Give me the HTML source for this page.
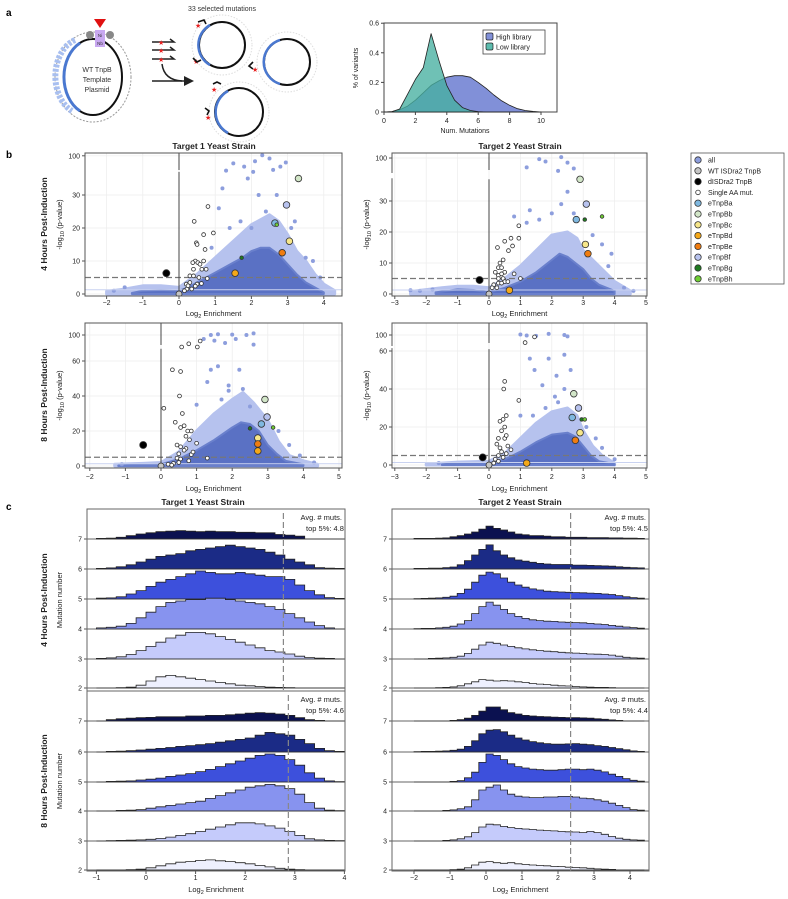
<!DOCTYPE html>
<html><head><meta charset="utf-8">
<style>
html,body{margin:0;padding:0;background:#fff;}
svg{display:block;font-family:"Liberation Sans",sans-serif;}
</style></head>
<body>
<svg id="fig" width="788" height="899" viewBox="0 0 788 899" xmlns="http://www.w3.org/2000/svg">
<text x="6" y="16" font-size="10" font-weight="bold">a</text>
<text x="6" y="158" font-size="10" font-weight="bold">b</text>
<text x="6" y="510" font-size="10" font-weight="bold">c</text>
<g>
<ellipse cx="93" cy="77" rx="38" ry="45" fill="none" stroke="#999" stroke-width="1" stroke-dasharray="2,1.5"/>
<path d="M 83 40 A 28 38 0 0 0 80 111" fill="none" stroke="#a8bff0" stroke-width="6" stroke-dasharray="3,1.5" transform="translate(-8,0)"/>
<ellipse cx="93" cy="77" rx="29" ry="38" fill="none" stroke="#111" stroke-width="2"/>
<path d="M 80 43 A 29 38 0 0 0 80 111" fill="none" stroke="#4a78d0" stroke-width="3"/>
<circle cx="90" cy="35" r="4" fill="#888"/>
<circle cx="110" cy="35" r="4" fill="#888"/>
<rect x="95" y="30" width="10" height="17" fill="#c8a8f0"/>
<text x="100" y="37" font-size="4.5" text-anchor="middle" fill="#333">Ni</text>
<text x="100" y="45" font-size="4.5" text-anchor="middle" fill="#333">Nb</text>
<polygon points="94,19 106,19 100,28" fill="#e01010"/>
<text x="97" y="72" font-size="7" text-anchor="middle" fill="#333">WT TnpB</text>
<text x="97" y="82" font-size="7" text-anchor="middle" fill="#333">Template</text>
<text x="97" y="92" font-size="7" text-anchor="middle" fill="#333">Plasmid</text>
<text x="222" y="11" font-size="7" text-anchor="middle" fill="#333">33 selected mutations</text>
<g stroke="#222" stroke-width="1.5" fill="none">
<path d="M152 42 H174 L170 39"/><path d="M152 50 H174 L170 47"/><path d="M152 59 H174 L170 56"/>
<path d="M162 64 Q164 80 182 81"/><path d="M152 81 H186"/>
</g>
<polygon points="184,76 194,81 184,86" fill="#222"/>
<g fill="#e82020" font-size="7"><text x="158" y="45">★</text><text x="158" y="53">★</text><text x="158" y="62">★</text></g>
<g>
<circle cx="222" cy="45" r="30" fill="none" stroke="#ddd" stroke-dasharray="1.5,1.5"/>
<circle cx="222" cy="45" r="23" fill="none" stroke="#111" stroke-width="2"/>
<path d="M 210 25 A 23 23 0 0 0 210 65" fill="none" stroke="#4a78d0" stroke-width="2.5"/>
<circle cx="287" cy="62" r="30" fill="none" stroke="#ddd" stroke-dasharray="1.5,1.5"/>
<circle cx="287" cy="62" r="23" fill="none" stroke="#111" stroke-width="2"/>
<path d="M 280 40 A 23 23 0 0 0 280 84" fill="none" stroke="#4a78d0" stroke-width="2.5"/>
<circle cx="239" cy="112" r="30" fill="none" stroke="#ddd" stroke-dasharray="1.5,1.5"/>
<circle cx="239" cy="112" r="24" fill="none" stroke="#111" stroke-width="2"/>
<path d="M 228 91 A 24 24 0 0 0 228 133" fill="none" stroke="#4a78d0" stroke-width="2.5"/>
<g fill="#e82020" font-size="7"><text x="195" y="28">★</text><text x="193" y="64">★</text><text x="252" y="72">★</text><text x="211" y="92">★</text><text x="205" y="120">★</text></g>
<g stroke="#111" stroke-width="1.6" fill="none"><path d="M198 22 l6 -2 l2 4"/><path d="M193 58 l4 4 l4 -2"/><path d="M253 62 l-4 4 l4 3"/><path d="M213 84 l4 -2 l4 2"/><path d="M205 108 l4 3 l-2 4"/></g>
</g>
</g>
<g id="pa"></g>
<g id="pb"></g>
<g id="pc"></g>
</svg>
<script>
const distX = [0,0.5,1,1.5,2,2.5,3,3.5,4,4.5,5,5.5,6,6.5,7,7.5,8,8.5,9,9.5,10];
const highLib = [0,0.003,0.015,0.04,0.08,0.13,0.18,0.21,0.235,0.245,0.245,0.235,0.2,0.16,0.115,0.075,0.045,0.022,0.01,0.004,0];
const lowLib = [0,0.003,0.02,0.12,0.22,0.3,0.53,0.35,0.18,0.08,0.03,0.01,0.003,0,0,0,0,0,0,0,0];
const distXTicks = [0,2,4,6,8,10];
const distYTicks = [0,0.2,0.4,0.6];

const allCloudX_T1_4h = [-1.3,-1,-0.5,0,0.25,0.5,0.75,1,1.25,1.5,1.75,2,2.25,2.5,2.75,3,3.25,3.5,3.75,4];
const allCloudDense_T1_4h = [0.3,1,1.2,1,2,3.5,5,6.5,8,9.5,11,13,14,14,12,9,6,3.5,2,0.5];
const allSparseX_T1_4h = [-2,-1.5,-1,-0.5,0,0.5,1,1.5,2,2.5,2.75,3,3.25,3.5,3.75,4,4.3];
const allSparseTop_T1_4h = [0.8,1.5,2.5,2.5,2,6,11,16,21,24,22,18,13,10,6,3,1];
const outX_T1_4h = [1.3,1.5,2.1,2.5,2.3,2.8,2.95,1.8,2.6,1.9,2.2,2.7,1.1,1.4,1.7,2.4,3.2,3.5,3.7,3.9,-1.5,-1.8,2,0.9,3.1,1.2,2.05];
const outY_T1_4h = [45,72,80,90,102,60,75,60,48,35,30,30,26,20,22,25,22,11,10,5,2,1,20,14,20,32,38];
const aaX_T1_4h = [0.8,0.42,0.68,0.95,0.48,0.5,0.72,0.45,0.52,0.38,0.58,0.68,0.4,0.63,0.75,0.3,0.4,0.55,0.78,0.2,0.3,0.5,0.62,0.22,0.35,0.15,0.25,0.45];
const aaY_T1_4h = [26.5,22,18,18.5,15.5,15,13.5,10,9.5,9.5,9,10,7.5,7.5,7.5,5.5,5.5,5,4.7,3,3.5,3,3.2,1.5,1.5,1,2.5,2.4];
const varX_T1_4h = [0,-0.35,2.65,3.3,3.05,1.55,2.85,2.97,1.73,2.7];
const varY_T1_4h = [0,6.3,21.5,35,16,6.3,12.5,27,11,21];

const allCloudX_T2_4h = [-1.7,-1,-0.5,0,0.5,1,1.5,2,2.25,2.5,2.75,3,3.25,3.5,4];
const allCloudDense_T2_4h = [0.5,1.5,1.3,0.5,2,4,7,11,13,12,10,8,5,3,1];
const allSparseX_T2_4h = [-2.5,-1.5,-1,-0.5,0,0.5,1,1.5,2,2.5,2.8,3,3.5,4,4.5];
const allSparseTop_T2_4h = [0.8,2,2.5,2.5,2,5,9,14,19,20,18,14,9,4,1];
const outX_T2_4h = [1.6,1.8,2.3,2.5,1.2,2.7,2.2,0.8,1.3,1.6,2,2.3,2.7,2.5,3.6,3.9,3.8,4.3,4.6,-2.5,-2.2,-1.8,1.2,3.3];
const outY_T2_4h = [95,85,104,80,60,55,45,25,27,24,26,29,26,33,16,13,9,2,1,1.2,1,1.5,23,19];
const aaX_T2_4h = [0.95,0.5,0.7,0.95,0.27,0.75,0.62,0.45,0.35,0.3,0.4,0.2,0.5,0.3,0.4,0.8,0.3,0.45,1,0.15,0.3,0.5,0.1,0.25,0.6,0.4];
const aaY_T2_4h = [22,17,18,18,15,15.5,14,11,10,8.5,8.5,7,7,6,6.5,6.5,5,5,5,3,3.5,4,2,2,4,3.5];
const varX_T2_4h = [0,-0.3,2.78,2.9,3.07,0.65,3.15,3.1,3.05,3.6];
const varY_T2_4h = [0,4.5,24,37,16,1.2,13,29,24,25];

const allCloudX_T1_8h = [-1.2,-0.5,0,0.5,1,1.5,2,2.25,2.5,2.75,3,3.25,3.5,4];
const allCloudDense_T1_8h = [0.3,0.8,1,4,9,15,22,25,24,20,12,7,3,1];
const allSparseX_T1_8h = [-1.3,-0.5,0,0.5,1,1.5,2,2.3,2.6,3,3.3,3.6,4,4.4];
const allSparseTop_T1_8h = [1,1.5,2,8,20,30,38,42,36,26,14,6,3,1];
const outX_T1_8h = [1.4,1.6,2.0,2.4,2.6,1.2,1.5,1.8,2.1,2.6,1.4,1.6,2.2,1.3,1.9,2.3,1,1.7,2.5,3.3,3.6,3.9,4.3,-1.1,1.9];
const outY_T1_8h = [100,102,101,100,104,90,86,80,90,76,55,57,55,48,46,44,35,38,34,20,12,6,2,1,43];
const aaX_T1_8h = [1.1,0.78,0.58,1.02,0.32,0.55,0.08,0.6,0.52,0.4,0.55,0.65,0.75,0.7,0.85,0.8,0.45,0.55,0.7,0.65,0.5,0.85,0.45,0.55,0.5,0.35,0.2,0.3,0.78,1.3,1,0.9];
const aaY_T1_8h = [85,78,70,70,55,54,33,30,40,25,22,23,20,17,20,15,12,11,10,9,7,6.5,4.5,4,2,1.5,1,0.5,3,4.5,13,8];
const varX_T1_8h = [0,-0.5,2.82,2.92,2.72,2.72,2.72,2.98,2.5,3.15];
const varY_T1_8h = [0,12,24,38,16,8.6,12.6,28,21.5,22];

const allCloudX_T2_8h = [-1.5,-1,-0.5,0,0.5,1,1.5,2,2.5,2.75,3,3.25,3.5,4];
const allCloudDense_T2_8h = [0.3,1,1,1,3,7,12,16,17,15,10,5,2,0.5];
const allSparseX_T2_8h = [-2,-1,0,0.5,1,1.5,2,2.5,2.8,3,3.3,3.6,4];
const allSparseTop_T2_8h = [0.5,1.5,2,6,14,22,28,30,26,18,10,5,1];
const outX_T2_8h = [1,1.2,1.5,1.9,2.4,2.5,1.3,1.9,2.4,1.45,2.15,2.6,1.7,2.1,2.4,1,1.4,1.8,2.2,3.1,3.4,3.6,4,-1.6];
const outY_T2_8h = [102,98,97,104,100,95,56,56,58,50,47,50,42,36,40,26,26,30,33,20,14,9,3,1];
const aaX_T2_8h = [1.45,1.15,0.5,0.47,0.95,0.55,0.35,0.45,0.5,0.4,0.3,0.5,0.55,0.25,0.35,0.4,0.55,0.3,0.45,0.2,0.3,0.15,0.6,0.7];
const aaY_T2_8h = [93,72,44,40,34,26,23,24,20,18,14,14,15.5,11,9,7,6,5,4,3,2,1,10,8];
const varX_T2_8h = [0,-0.2,2.65,2.7,2.9,1.2,2.75,2.85,2.95,3.05];
const varY_T2_8h = [0,4,25,37.5,17,1,13,30,24,24];

const legendLabels = ["all","WT ISDra2 TnpB","dISDra2 TnpB","Single AA mut.","eTnpBa","eTnpBb","eTnpBc","eTnpBd","eTnpBe","eTnpBf","eTnpBg","eTnpBh"];

const mutRows = [7,6,5,4,3,2];
const hist_T1_4h_r7 = [0.2,0.3,0.6,1.2,1.8,2.2,2.6,2.8,3,2.8,2.6,2.8,2.6,2.6,2.4,2.4,2.2,2.2,1.6,1.4,1.0,0,0,0,0];
const hist_T1_4h_r6 = [0.2,0.4,0.8,1.5,2.5,3.5,4.5,5,5.5,6.5,7,7.5,8,8.5,8,7.5,7,6,5,3.5,2.5,1.5,0.5,0.3,0.2];
const hist_T1_4h_r5 = [0.3,0.4,0.8,1.8,3,4.5,6,7,8,9,10,9.5,9,9,9.5,9,8.5,8,8,7,5,3,1.5,0.5,0.2];
const hist_T1_4h_r4 = [0.4,0.6,1,2,4,6,8,9.5,10,10.5,10.5,11,11,10.5,10,9.5,9,8,7,5.5,4,2.5,1.2,0.4,0];
const hist_T1_4h_r3 = [0.2,0.4,0.8,1.6,3,4.5,6,7.5,8.5,9.5,9.5,9,8,7,6,5,4,3,2.5,1.8,1,0.5,0.3,0.2,0];
const hist_T1_4h_r2 = [0,0,0.1,0.3,1,2.5,4,4.5,4,3.5,3,2.5,2,1.5,1,0.8,0.5,0.3,0.2,0.1,0,0,0,0,0];
const hist_T1_8h_r7 = [0,0.5,0.8,1,1.2,1.3,1.5,1.5,1.5,1.8,1.8,2,2,2.2,2.5,2.8,3,2.8,2.5,2,1.2,0.5,0.2,0,0];
const hist_T1_8h_r6 = [0,0.2,0.3,0.5,0.7,1,1.3,1.6,2,2.3,2.6,3,3.5,4,4.5,5,6,7,6.5,6,4.5,3,1.3,0.5,0.2];
const hist_T1_8h_r5 = [0,0.2,0.3,0.4,0.7,1,1.4,2,2.5,3,3.7,4.5,5.5,6.5,7.5,8.5,9.5,10,9.5,8,6,3.3,1.4,0.4,0.1];
const hist_T1_8h_r4 = [0,0,0.2,0.3,0.5,1,1.5,2,2.5,3,3.5,4.5,5.5,6.5,7.5,8.5,9,9.5,9,8,6,3,1,0.3,0.1];
const hist_T1_8h_r3 = [0,0.1,0.2,0.3,0.4,0.6,0.9,1.4,2,2.6,3.4,4.2,5,5.8,6.5,6.5,6.1,5.4,4.6,3.4,2,0.8,0.4,0.2,0.1];
const hist_T1_8h_r2 = [0,0,0,0.1,0.3,0.8,1.5,2.2,2.8,3,3.4,3.6,3.3,3,2.6,2.2,1.6,1.1,0.6,0.3,0.1,0,0,0,0];
const hist_T2_4h_r7 = [0.2,0.2,0.2,0.3,0.4,0.8,1.2,1.8,2.5,3.5,4.6,3.8,3.2,2.5,1.8,1.5,1.2,1.2,1,0.8,0.8,0.6,0.6,0.6,0.5,0.5,0.5,0.4,0.4,0.3,0.3,0.2];
const hist_T2_4h_r6 = [0.2,0.2,0.3,0.3,0.5,0.7,1.5,3,5,7,8.6,6.5,5,4,3.2,2.8,2.4,2,1.8,1.6,1.6,1.6,1.4,1.4,1.3,1.2,1.1,1,0.8,0.6,0.5,0.4];
const hist_T2_4h_r5 = [0.1,0.2,0.3,0.4,0.6,1,2,3.5,6,8.5,9.6,9,7.5,6,5,4.2,3.6,3.2,2.8,2.6,2.5,2.4,2.3,2.2,2.1,2,1.8,1.6,1.2,0.8,0.5,0.3];
const hist_T2_4h_r4 = [0.1,0.2,0.2,0.4,0.6,1,1.8,3,5.5,8,9.6,8.5,7,5.5,4.5,3.8,3.3,3,2.8,2.7,2.5,2.4,2.3,2.2,2,1.8,1.6,1.3,1,0.7,0.5,0.3];
const hist_T2_4h_r3 = [0,0,0.2,0.3,0.4,0.6,1,2,3.5,5,6,5.6,5,4.5,4,3.6,3.3,3,2.8,2.6,2.4,2.2,2.1,2,1.8,1.7,1.6,1.4,1,0.6,0.4,0.3];
const hist_T2_4h_r2 = [0,0,0,0.1,0.2,0.4,0.8,1.5,2.2,3,2.8,2.5,2.6,2.5,2.2,2,1.6,1.4,1.2,1,0.8,0.7,0.5,0.4,0.3,0.2,0.2,0.1,0,0,0,0];
const hist_T2_8h_r7 = [0,0,0,0,0,0.2,0.5,1,2,3.5,5,5,4,3,2.5,2,1.8,1.6,1.5,1.4,1.3,1.2,1.2,1.1,1,0.8,0.6,0.4,0.2,0,0,0];
const hist_T2_8h_r6 = [0.1,0.2,0.2,0.3,0.4,0.6,1,2,4,6.5,7.8,8,7.2,6,5,4.3,3.7,3.3,3,2.8,2.8,2.9,3,2.8,2.6,2.3,2,1.6,1.2,0.8,0.4,0.2];
const hist_T2_8h_r5 = [0,0,0,0,0,0.2,0.5,1.5,3.5,7,10,9.5,8,6.5,5.5,5,4.6,4.4,4.2,4.2,4.4,4.6,4.6,4.4,4.6,4.2,3.6,2.8,2,1.2,0.6,0.3];
const hist_T2_8h_r4 = [0,0,0,0,0.2,0.4,0.8,1.5,4,7.5,8.5,9.3,7.5,6,5.3,5,4.8,4.8,5,5,5.2,5.2,5,4.6,4.4,4,3.5,2.8,2,1.2,0.5,0.3];
const hist_T2_8h_r3 = [0,0,0,0,0.2,0.4,0.8,1.5,3,5,6,5.8,5.2,4.8,4.5,4.3,4.1,3.9,3.7,3.6,3.4,3.3,3.2,3,3.4,3,2.4,1.6,1,0.6,0.4,0.3];
const hist_T2_8h_r2 = [0,0,0,0,0,0.1,0.3,0.8,1.8,2.8,3,2.6,2.4,2.6,2.2,2,1.8,1.6,1.5,1.3,1.2,1,0.9,0.8,0.6,0.4,0.3,0.2,0,0,0,0];
const topFivePct = ["4.8","4.6","4.5","4.4"];
const cutoffLeft4h = 2.77, cutoffLeft8h = 2.87, cutoffRight = 2.35;

const NS = "http://www.w3.org/2000/svg";
function mk(tag, attrs, parent){ const e=document.createElementNS(NS,tag); for(const k in attrs) e.setAttribute(k,attrs[k]); parent.appendChild(e); return e; }
function txt(parent, x, y, s, size, anchor, extra){ const t=mk('text',Object.assign({x:x,y:y,'font-size':size,'text-anchor':anchor||'start',fill:'#222'},extra||{}),parent); t.textContent=s; return t; }

(function(){
  const g=document.getElementById('pa');
  const X=v=>384+v*15.7, Y=v=>112-v*148;
  const fr=mk('rect',{x:384,y:23,width:173,height:89,fill:'none',stroke:'#444','stroke-width':1},g);
   
  function area(vals, fill, name){
    let d='M'+X(distX[0])+','+Y(0);
    distX.forEach((x,i)=>{ d+=' L'+X(x).toFixed(1)+','+Y(vals[i]).toFixed(1); });
    d+=' L'+X(distX[distX.length-1])+','+Y(0)+' Z';
    const p=mk('path',{d:d,fill:fill,stroke:'#222','stroke-width':0.8,'stroke-linejoin':'round'},g);
     
  }
  area(highLib,'#8190d8','high-library-curve');
  area(lowLib,'rgba(70,175,160,0.78)','low-library-curve');
  distXTicks.forEach(v=>{ const t=txt(g,X(v),123,String(v),7,'middle');  
    const l=mk('line',{x1:X(v),x2:X(v),y1:112,y2:115,stroke:'#444'},g);  });
  distYTicks.forEach(v=>{ const t=txt(g,379,Y(v)+2.5,String(v),7,'end');  
    const l=mk('line',{x1:381,x2:384,y1:Y(v),y2:Y(v),stroke:'#444'},g);  });
  let t=txt(g,465,133,'Num. Mutations',7,'middle');  
  t=txt(g,0,0,'% of variants',7,'middle',{transform:'translate(358,68) rotate(-90)'});  
  const lb=mk('rect',{x:483,y:30,width:62,height:24,fill:'#fff',stroke:'#444','stroke-width':0.8},g);  
  let s=mk('rect',{x:486,y:33,width:7,height:7,rx:1.5,fill:'#8190d8',stroke:'#222','stroke-width':0.7},g);  
  s=mk('rect',{x:486,y:43,width:7,height:7,rx:1.5,fill:'#5cbcae',stroke:'#222','stroke-width':0.7},g);  
  t=txt(g,496,39.5,'High library',7);  
  t=txt(g,496,49.5,'Low library',7);  
})();

const varColors=['#c6c6c6','#000','#7fb8e0','#d2e6c8','#f6e68a','#f5a818','#f07c10','#b8c3ef','#1f7a1f','#6fcf33'];
const varR=[3,3.5,3.3,3.3,3.3,3.3,3.3,3.3,1.8,1.8];
(function(){
  const g=document.getElementById('pb');
  const panels=[
    {name:'t1-4h',box:[85,153,342,296],x0:179,kx:36.2,y0:294,ky:3.3,brk:37,up0:40,upPx:172,kup:0.27,yt:[0,10,20,30,100],xt:[-2,-1,0,1,2,3,4],xl:305,xtitle:316,
     cx:allCloudX_T1_4h,cd:allCloudDense_T1_4h,sx:allSparseX_T1_4h,st:allSparseTop_T1_4h,ox:outX_T1_4h,oy:outY_T1_4h,ax:aaX_T1_4h,ay:aaY_T1_4h,vx:varX_T1_4h,vy:varY_T1_4h},
    {name:'t2-4h',box:[392,153,647,296],x0:489,kx:31.4,y0:294,ky:3.1,brk:37,up0:40,upPx:172,kup:0.233,yt:[0,10,20,30,100],xt:[-3,-2,-1,0,1,2,3,4,5],xl:305,xtitle:316,
     cx:allCloudX_T2_4h,cd:allCloudDense_T2_4h,sx:allSparseX_T2_4h,st:allSparseTop_T2_4h,ox:outX_T2_4h,oy:outY_T2_4h,ax:aaX_T2_4h,ay:aaY_T2_4h,vx:varX_T2_4h,vy:varY_T2_4h},
    {name:'t1-8h',box:[85,323,342,468],x0:161,kx:35.6,y0:466,ky:1.75,brk:67,up0:70,upPx:347,kup:0.4,yt:[0,20,40,60,100],xt:[-2,-1,0,1,2,3,4,5],xl:479,xtitle:491,
     cx:allCloudX_T1_8h,cd:allCloudDense_T1_8h,sx:allSparseX_T1_8h,st:allSparseTop_T1_8h,ox:outX_T1_8h,oy:outY_T1_8h,ax:aaX_T1_8h,ay:aaY_T1_8h,vx:varX_T1_8h,vy:varY_T1_8h},
    {name:'t2-8h',box:[392,323,647,468],x0:489,kx:31.4,y0:465,ky:1.9,brk:61,up0:63,upPx:345,kup:0.27,yt:[0,20,40,60,100],xt:[-3,-2,-1,0,1,2,3,4,5],xl:479,xtitle:491,
     cx:allCloudX_T2_8h,cd:allCloudDense_T2_8h,sx:allSparseX_T2_8h,st:allSparseTop_T2_8h,ox:outX_T2_8h,oy:outY_T2_8h,ax:aaX_T2_8h,ay:aaY_T2_8h,vx:varX_T2_8h,vy:varY_T2_8h}
  ];
  panels.forEach(P=>{
    const pg=mk('g',{},g);  
    const [L,T,R,B]=P.box;
    const X=v=>P.x0+v*P.kx;
    const Y=v=>{ if(v<=P.brk) return P.y0-v*P.ky; if(v>=P.up0) return Math.max(T+1,P.upPx-(v-P.up0)*P.kup); return P.y0-P.brk*P.ky; };
    const cid='clip-'+P.name;
    const cp=mk('clipPath',{id:cid},pg); mk('rect',{x:L,y:T,width:R-L,height:B-T},cp);
    const inner=mk('g',{'clip-path':'url(#'+cid+')'},pg);  
    P.xt.forEach(v=>{ const l=mk('line',{x1:X(v),x2:X(v),y1:T,y2:B,stroke:'#ececec','stroke-width':0.7},inner);   });
    P.yt.forEach(v=>{ const l=mk('line',{x1:L,x2:R,y1:Y(v),y2:Y(v),stroke:'#ececec','stroke-width':0.7},inner);   });
    let d='M'+X(P.sx[0])+','+Y(0); P.sx.forEach((x,i)=>{ d+=' L'+X(x).toFixed(1)+','+Y(P.st[i]).toFixed(1); }); d+=' L'+X(P.sx[P.sx.length-1])+','+Y(0)+' Z';
    let p=mk('path',{d:d,fill:'#b6c2ee','stroke-linejoin':'round',stroke:'#b6c2ee','stroke-width':3},inner);  
    d='M'+X(P.cx[0])+','+Y(0); P.cx.forEach((x,i)=>{ d+=' L'+X(x).toFixed(1)+','+Y(P.cd[i]).toFixed(1); }); d+=' L'+X(P.cx[P.cx.length-1])+','+Y(0)+' Z';
    p=mk('path',{d:d,fill:'#5a71c4',stroke:'#6a80cc','stroke-width':2,'stroke-linejoin':'round'},inner);  
    P.ox.forEach((x,i)=>{ const c=mk('circle',{cx:X(x),cy:Y(P.oy[i]),r:2,fill:'#8d9edd'},inner);   });
    let l=mk('line',{x1:L,x2:R,y1:Y(1.3),y2:Y(1.3),stroke:'#c9d2f0','stroke-width':1},inner);  
    l=mk('line',{x1:L,x2:R,y1:Y(5),y2:Y(5),stroke:'#777','stroke-width':1.3,'stroke-dasharray':'6,3'},inner);  
    l=mk('line',{x1:X(0),x2:X(0),y1:Y(0),y2:Y(P.brk),stroke:'#444','stroke-width':1},inner);  
    l=mk('line',{x1:X(0),x2:X(0),y1:P.upPx-2,y2:T,stroke:'#444','stroke-width':1},inner);  
    P.ax.forEach((x,i)=>{ const c=mk('circle',{cx:X(x),cy:Y(P.ay[i]),r:1.9,fill:'#fff',stroke:'#333','stroke-width':0.8},inner);   });
    P.vx.forEach((x,i)=>{ const c=mk('circle',{cx:X(x),cy:Y(P.vy[i]),r:varR[i],fill:varColors[i],stroke:'#333','stroke-width':0.8},inner);   });
    const gy1=P.y0-P.brk*P.ky, gy2=P.upPx;
    l=mk('path',{d:`M${L},${gy1-1} V${B} H${R} V${T} H${L} V${gy2+1}`,fill:'none',stroke:'#555','stroke-width':1},pg);  
    P.yt.forEach(v=>{ const t=txt(pg,L-5,Y(v)+2.5,String(v),7,'end');  
      const m=mk('line',{x1:L-3,x2:L,y1:Y(v),y2:Y(v),stroke:'#555'},pg);   });
    P.xt.forEach(v=>{ const t=txt(pg,X(v),P.xl,(v<0?'−':'')+Math.abs(v),7,'middle');  
      const m=mk('line',{x1:X(v),x2:X(v),y1:B,y2:B+3,stroke:'#555'},pg);   });
    const xt=mk('text',{x:(L+R)/2,y:P.xtitle,'font-size':7.5,'text-anchor':'middle',fill:'#222'},pg);
    xt.innerHTML='Log<tspan font-size="5.5" dy="2">2</tspan><tspan dy="-2"> Enrichment</tspan>';
     
    const yt=mk('text',{'font-size':7.5,'text-anchor':'middle',fill:'#222',transform:`translate(${L-23},${(T+B)/2}) rotate(-90)`},pg);
    yt.innerHTML='-log<tspan font-size="5.5" dy="2">10</tspan><tspan dy="-2"> (p-value)</tspan>';
     
  });
  let t=txt(g,214,149,'Target 1 Yeast Strain',8.5,'middle',{'font-weight':'bold'});  
  t=txt(g,520,149,'Target 2 Yeast Strain',8.5,'middle',{'font-weight':'bold'});  
  t=txt(g,0,0,'4 Hours Post-Induction',8.5,'middle',{'font-weight':'bold',transform:'translate(47,224) rotate(-90)'});  
  t=txt(g,0,0,'8 Hours Post-Induction',8.5,'middle',{'font-weight':'bold',transform:'translate(47,395) rotate(-90)'});  
  const lg=mk('g',{},g);  
  const lb=mk('rect',{x:691,y:153,width:93,height:131,fill:'#fff',stroke:'#555','stroke-width':0.8},lg);  
  const legCol=['#8d9edd','#c6c6c6','#000','#fff'].concat(varColors.slice(2));
  legendLabels.forEach((s,i)=>{
    const y=160+i*10.8;
    const c=mk('circle',{cx:698,cy:y,r:i==3?2.3:3.2,fill:legCol[i],stroke:'#333','stroke-width':0.8},lg);  
    const t=txt(lg,708,y+2.5,s,7);  
  });
})();

const rowFill={7:'#0b1150',6:'#1b2b86',5:'#3d50dc',4:'#8793ef',3:'#c5cbfb',2:'#eef0fe'};
(function(){
  const g=document.getElementById('pc');
  const sets=[
    {name:'t1-4h',L:87,R:345,T:509,B:691,base:[539,569,599,629,659,688],x0:146,kx:49.6,bin0:-1.0,data:[hist_T1_4h_r7,hist_T1_4h_r6,hist_T1_4h_r5,hist_T1_4h_r4,hist_T1_4h_r3,hist_T1_4h_r2],cut:cutoffLeft4h,avg:topFivePct[0]},
    {name:'t1-8h',L:87,R:345,T:691,B:871,base:[721,752,782,811,841,870],x0:146,kx:49.6,bin0:-1.0,data:[hist_T1_8h_r7,hist_T1_8h_r6,hist_T1_8h_r5,hist_T1_8h_r4,hist_T1_8h_r3,hist_T1_8h_r2],cut:cutoffLeft8h,avg:topFivePct[1]},
    {name:'t2-4h',L:392,R:649,T:509,B:691,base:[539,569,599,629,659,688],x0:486,kx:36,bin0:-2.0,data:[hist_T2_4h_r7,hist_T2_4h_r6,hist_T2_4h_r5,hist_T2_4h_r4,hist_T2_4h_r3,hist_T2_4h_r2],cut:cutoffRight,avg:topFivePct[2]},
    {name:'t2-8h',L:392,R:649,T:691,B:871,base:[721,752,782,811,841,870],x0:486,kx:36,bin0:-2.0,data:[hist_T2_8h_r7,hist_T2_8h_r6,hist_T2_8h_r5,hist_T2_8h_r4,hist_T2_8h_r3,hist_T2_8h_r2],cut:cutoffRight,avg:topFivePct[3]}
  ];
  sets.forEach(S=>{
    const pg=mk('g',{},g);  
    const X=v=>S.x0+v*S.kx;
    const cid='cclip-'+S.name; const cp=mk('clipPath',{id:cid},pg); mk('rect',{x:S.L,y:S.T,width:S.R-S.L,height:S.B-S.T},cp);
    const inner=mk('g',{'clip-path':'url(#'+cid+')'},pg);
    S.data.forEach((vals,ri)=>{
      const b=S.base[ri], m=mutRows[ri];
      let d='M'+X(S.bin0)+','+b;
      vals.forEach((v,i)=>{ const x1=X(S.bin0+i*0.2), x2=X(S.bin0+(i+1)*0.2), y=b-v*2.8; d+=` L${x1.toFixed(1)},${y.toFixed(1)} L${x2.toFixed(1)},${y.toFixed(1)}`; });
      d+=' L'+X(S.bin0+vals.length*0.2)+','+b+' Z';
      const p=mk('path',{d:d,fill:rowFill[m],stroke:'#222','stroke-width':0.8,'stroke-linejoin':'miter'},inner);
       
      const l=mk('line',{x1:S.L,x2:S.R,y1:b,y2:b,stroke:'#333','stroke-width':0.8},inner);  
      const t=txt(pg,S.L-5,b+2.5,String(m),7,'end');  
      const tk=mk('line',{x1:S.L-3,x2:S.L,y1:b,y2:b,stroke:'#555'},pg);  
    });
    const dl=mk('line',{x1:X(S.cut),x2:X(S.cut),y1:S.T+4,y2:S.B,stroke:'#888','stroke-width':1.2,'stroke-dasharray':'6,3'},inner);  
    const fr=mk('rect',{x:S.L,y:S.T,width:S.R-S.L,height:S.B-S.T,fill:'none',stroke:'#666','stroke-width':1},pg);  
    let t=txt(pg,S.R-3,S.T+11,'Avg. # muts.',7.5,'end');  
    t=txt(pg,S.R-20,S.T+22,'top 5%: '+S.avg,7.5,'middle');  
  });
  const ax=[{x0:146,kx:49.6,t:[-1,0,1,2,3,4],L:87,R:345},{x0:486,kx:36,t:[-2,-1,0,1,2,3,4],L:392,R:649}];
  ax.forEach((A,ai)=>{
    A.t.forEach(v=>{ const x=A.x0+v*A.kx; const t=txt(g,x,880,(v<0?'−':'')+Math.abs(v),7,'middle');  
      const m=mk('line',{x1:x,x2:x,y1:871,y2:874,stroke:'#555'},g);   });
    const xt=mk('text',{x:(A.L+A.R)/2,y:892,'font-size':7.5,'text-anchor':'middle',fill:'#222'},g);
    xt.innerHTML='Log<tspan font-size="5.5" dy="2">2</tspan><tspan dy="-2"> Enrichment</tspan>';
     
  });
  let t=txt(g,203,505,'Target 1 Yeast Strain',8.5,'middle',{'font-weight':'bold'});  
  t=txt(g,520,505,'Target 2 Yeast Strain',8.5,'middle',{'font-weight':'bold'});  
  t=txt(g,0,0,'4 Hours Post-Induction',8.5,'middle',{'font-weight':'bold',transform:'translate(47,600) rotate(-90)'});  
  t=txt(g,0,0,'8 Hours Post-Induction',8.5,'middle',{'font-weight':'bold',transform:'translate(47,781) rotate(-90)'});  
  t=txt(g,0,0,'Mutation number',7.5,'middle',{transform:'translate(62,600) rotate(-90)'});  
  t=txt(g,0,0,'Mutation number',7.5,'middle',{transform:'translate(62,781) rotate(-90)'});  
})();
</script>
</body></html>
